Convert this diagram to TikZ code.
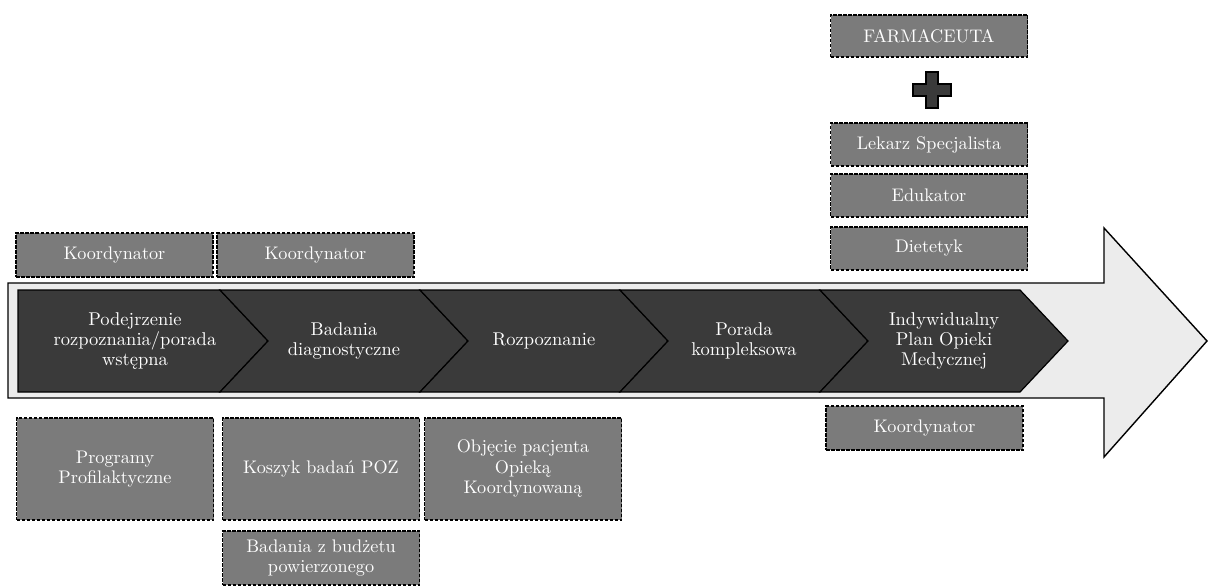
\documentclass[tikz,border=0pt]{standalone}
\usepackage{fontspec}
\setmainfont{lmroman10-regular.otf}[BoldFont=lmroman10-bold.otf]
\usepackage{xcolor}
\usepackage{tikz}
\usetikzlibrary{positioning}
\definecolor{cBand}{HTML}{3A3A3A}
\definecolor{cRole}{HTML}{7B7B7B}
\definecolor{cArrow}{HTML}{ECECEC}
\tikzset{
  role/.style    = {rectangle, draw=black, fill=cRole, line width=1.4pt,
                    dash pattern=on 3.5pt off 1.5pt, text=white, align=center,
                    inner sep=0pt, minimum width=197pt, minimum height=#1,
                    font=\fontsize{18.2}{20.5}\selectfont},
  role/.default  = 44pt,
  stage/.style   = {text=white, align=center, font=\fontsize{18.5}{20}\selectfont},
  chev/.style    = {fill=cBand, draw=black, line width=1.2pt, line join=miter},
}

\begin{document}
\begin{tikzpicture}[x=1pt, y=-1pt]
  \useasboundingbox (0,0) rectangle (1210,588);

  % big arrow
  \draw[fill=cArrow, line width=1.4pt, line join=miter]
    (8,283) -- (1104,283) -- (1104,228) -- (1207,341) -- (1104,457)
    -- (1104,398) -- (8,398) -- cycle;

  % chevrons
  \draw[chev] (18,290) -- (220,290) -- (268,341) -- (220,392) -- (18,392) -- cycle;
  \foreach \i in {1,...,4}
    \draw[chev] ({20+200*\i},290) -- ({220+200*\i},290) -- ({268+200*\i},341)
      -- ({220+200*\i},392) -- ({20+200*\i},392) -- ({68+200*\i},341) -- cycle;

  \node[stage] (s1) at (135,341) {Podejrzenie\\rozpoznania/porada\\wstępna};
  \node[stage] (s2) at (344,341) {Badania\\diagnostyczne};
  \node[stage] (s3) at (544,341) {Rozpoznanie};
  \node[stage] (s4) at (744,341) {Porada\\kompleksowa};
  \node[stage] (s5) at (944,341) {Indywidualny\\Plan Opieki\\Medycznej};

  % roles above
  \node[role] (koord1) at (114.5,255) {Koordynator};
  \node[role] (koord2) at (315.5,255) {Koordynator};
  \node[role=42pt] (farm) at (929,36) {FARMACEUTA};
  \draw[fill=cBand, line width=1.2pt, line join=miter]
    (926,72) -- (938,72) -- (938,84) -- (951,84) -- (951,96) -- (938,96)
    -- (938,108) -- (926,108) -- (926,96) -- (913,96) -- (913,84) -- (926,84) -- cycle;
  \node[role=43pt] (lekarz) at (929,144.5) {Lekarz Specjalista};
  \node[role=43pt] (eduk) at (929,195.5) {Edukator};
  \node[role=43pt] (diet) at (929,248.5) {Dietetyk};

  % roles below
  \node[role] (koord3) at (924.5,428) {Koordynator};
  \node[role=102pt] (prog) at (115,469) {Programy\\Profilaktyczne};
  \node[role=102pt] (koszyk) at (321,469) {Koszyk badań POZ};
  \node[role=102pt] (objecie) at (523,469) {Objęcie pacjenta\\Opieką\\Koordynowaną};
  \node[role=54pt] (budzet) at (321,558) {Badania z budżetu\\powierzonego};
\end{tikzpicture}
\end{document}
